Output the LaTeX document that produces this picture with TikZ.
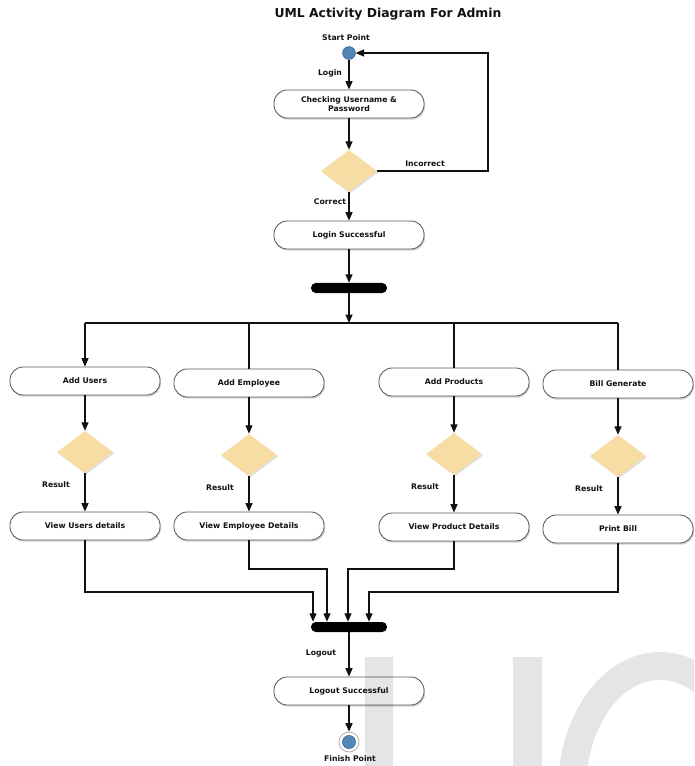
\documentclass[tikz,border=0pt]{standalone}
\usepackage{fontspec}
\setmainfont{DejaVu Sans}
\usepackage{tikz}
\usetikzlibrary{arrows.meta,shapes.geometric,shadows}
\definecolor{cInk}{HTML}{111111}
\definecolor{cEdge}{HTML}{5A5A5A}
\definecolor{cDec}{HTML}{F7DDA4}
\definecolor{cDot}{HTML}{5286B8}
\definecolor{cDotEdge}{HTML}{2E5A85}
\tikzset{
  act/.style={draw=cEdge, fill=white, line width=0.6pt, rounded corners=0.33cm,
              minimum width=3.75cm, minimum height=0.7cm, align=center, inner sep=1pt,
              font=\bfseries\fontsize{5.5}{6.6}\selectfont, text=cInk,
              drop shadow={shadow xshift=0.7pt, shadow yshift=-1.2pt, opacity=0.35}},
  dec/.style={diamond, fill=cDec, minimum width=1.4cm, minimum height=1.05cm, inner sep=0pt,
              drop shadow={shadow xshift=0.8pt, shadow yshift=-1pt, opacity=0.25}},
  bar/.style={fill=black, rounded corners=0.12cm, minimum width=1.9cm,
              minimum height=0.25cm, inner sep=0pt},
  lbl/.style={font=\bfseries\fontsize{5.5}{6.6}\selectfont, text=cInk, inner sep=0pt},
  ar/.style={-{Triangle[length=6pt,width=5pt]}, line width=0.9pt, cInk},
  ln/.style={line width=0.9pt, cInk}
}

\begin{document}
\begin{tikzpicture}[x=0.025cm, y=-0.025cm]
\useasboundingbox (0,0) rectangle (694,766);
\node[font=\bfseries\fontsize{8.8}{10}\selectfont, text=cInk] (title) at (388,14) {UML Activity Diagram For Admin};
% login part
\node[lbl] (startlbl) at (346,38) {Start Point};
\node[circle, fill=cDot, draw=cDotEdge, minimum size=0.32cm, inner sep=0pt] (start) at (349,53) {};
\node[act] (check) at (349,104) {Checking Username \&\\Password};
\node[dec] (d0) at (349,171) {};
\node[act] (loginok) at (349,235) {Login Successful};
\node[bar] (fork) at (349,288) {};
\coordinate (back) at (488,53);
\coordinate (split) at (349,323);
\draw[ar] (start) -- (check) ;
\draw[ar] (check) -- (d0);
\draw[ar] (d0) -- (loginok);
\draw[ar] (d0) -| (back) -- (start);
\draw[ar] (loginok) -- (fork);
\draw[ar] (fork) -- (split);
\node[lbl] (loginlbl) at (330,73) {Login};
\node[lbl] (correctlbl) at (330,202) {Correct};
\node[lbl] (incorrectlbl) at (425,164) {Incorrect};
% the four branches
\foreach \k/\x/\ya/\yd/\yv/\ta/\tv in {
  U/85/381/452/526/Add Users/View Users details,
  E/249/383/455/526/Add Employee/View Employee Details,
  P/454/382/454/527/Add Products/View Product Details,
  B/618/384/456/529/Bill Generate/Print Bill}
{
  \node[act] (add\k) at (\x,\ya) {\ta};
  \node[dec] (dec\k) at (\x,\yd) {};
  \node[act] (view\k) at (\x,\yv) {\tv};
  \node[lbl] (res\k) at (\x-29,\yd+33) {Result};
  \draw[ar] (add\k) -- (dec\k);
  \draw[ar] (dec\k) -- (view\k);
}
\draw[ln] (split -| addU) -- (split -| addB);
\draw[ar] (split -| addU) -- (addU);
\draw[ln] (split -| addE) -- (addE);
\draw[ln] (split -| addP) -- (addP);
\draw[ln] (split -| addB) -- (addB);
% join and logout
\node[bar] (join) at (349,627) {};
\coordinate (jU) at (313,592);
\coordinate (jE) at (327,569);
\coordinate (jP) at (348,569);
\coordinate (jB) at (369,592);
\draw[ar] (viewU) |- (jU) -- (jU |- join.north);
\draw[ar] (viewE) |- (jE) -- (jE |- join.north);
\draw[ar] (viewP) |- (jP) -- (jP |- join.north);
\draw[ar] (viewB) |- (jB) -- (jB |- join.north);
\node[act] (logoutok) at (349,691) {Logout Successful};
\node[circle, fill=white, draw=gray!70, line width=0.5pt, minimum size=0.5cm, inner sep=0pt] (finish) at (349,742) {};
\node[circle, fill=cDot, draw=cDotEdge, line width=0.3pt, minimum size=0.33cm, inner sep=0pt] (finishdot) at (finish) {};
\draw[ar] (join) -- (logoutok);
\draw[ar] (logoutok) -- (finish);
\node[lbl] (logoutlbl) at (321,654) {Logout};
\node[lbl] (finishlbl) at (350,759) {Finish Point};
% watermark
\begin{scope}
\clip (0,0) rectangle (694,766);
\fill[black, opacity=0.1] (365,657) rectangle (393,766) (513,657) rectangle (542,766);
\fill[black, opacity=0.1, even odd rule] (660,790) ellipse [x radius=2.55cm, y radius=3.45cm]
  (660,790) ellipse [x radius=1.85cm, y radius=2.75cm];
\end{scope}
\end{tikzpicture}
\end{document}
